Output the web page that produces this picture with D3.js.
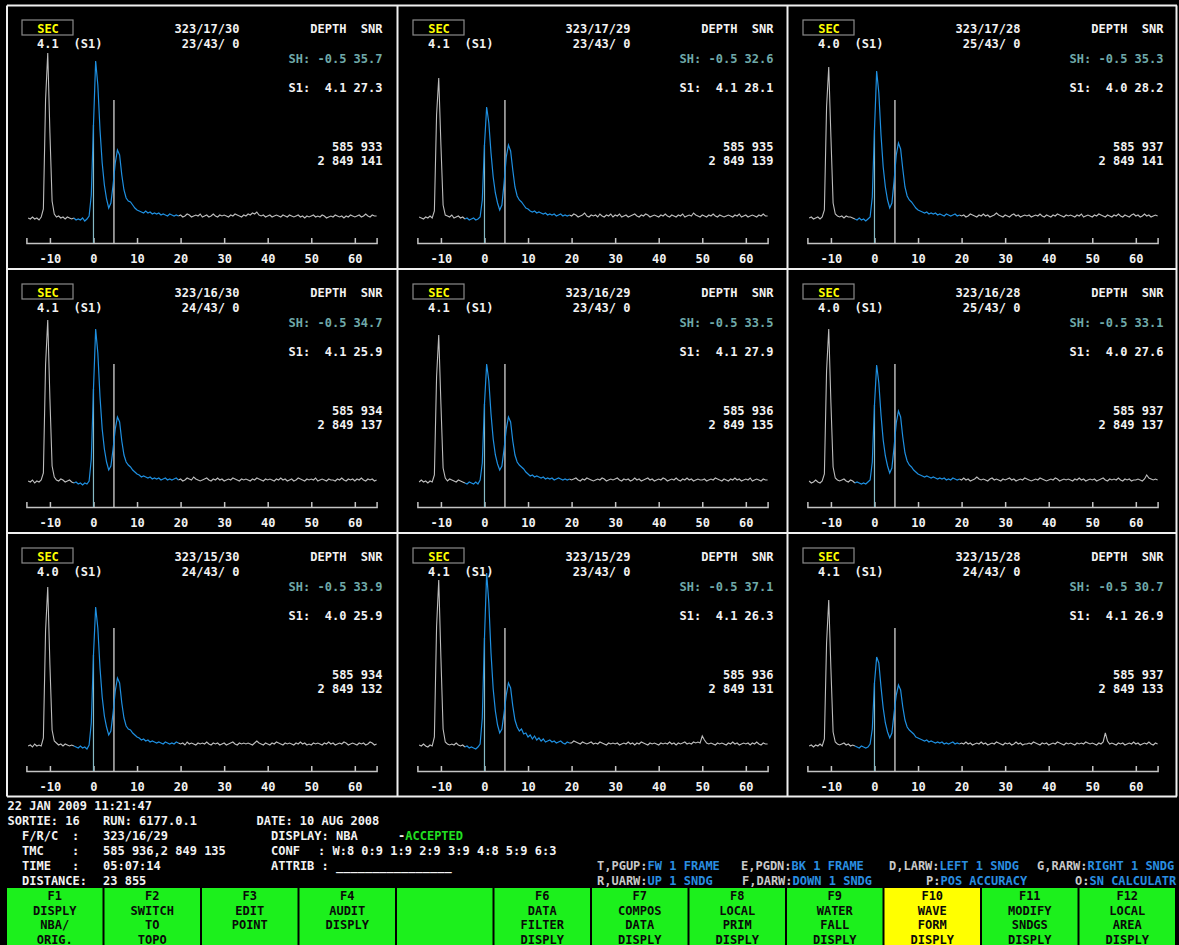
<!DOCTYPE html>
<html>
<head>
<meta charset="utf-8">
<script src="https://cdn.jsdelivr.net/npm/d3@7"></script>
<style>
  body { margin: 0; background: #000; }
  svg { display: block; }
  text {
    font-family: "DejaVu Sans Mono", "Liberation Mono", monospace;
    font-weight: bold;
    font-size: 12px;
    white-space: pre;
  }
</style>
</head>
<body>
<svg id="screen" width="1179" height="945"></svg>
<script>
// ---- waveform sampling: first sample depth and spacing (m) ----
const sampleStart = -15;
const sampleStep = 0.5;
// samples inside this span are the gated (blue) part of the return
const gateSpan = [-4.5, 19.5];
// pick marker depth and top of the marker (amplitude units)
const pickDepth = 4.7;
const pickTop = 125;

// ---- returned waveforms, 161 samples each (-15 .. 65 m) ----
const wave_17_30 = [
  7, 6, 8, 6, 7, 5, 8, 16, 125, 172,
  92, 24, 11, 8, 9, 7, 8, 6, 8, 7,
  6, 7, 5, 6, 5, 7, 4, 6, 9, 30,
  100, 164, 140, 95, 62, 40, 26, 17, 22, 40,
  62, 75, 70, 50, 35, 27, 24, 23, 20, 17,
  15, 14, 13, 12, 14, 12, 13, 11, 12, 11,
  12, 10, 11, 10, 9, 11, 10, 9, 10, 9,
  10, 8, 9, 11, 10, 8, 9, 10, 9, 11,
  8, 9, 10, 8, 9, 11, 9, 8, 10, 9,
  10, 9, 8, 10, 9, 11, 10, 9, 8, 10,
  9, 11, 10, 12, 11, 13, 10, 9, 10, 8,
  9, 10, 8, 9, 10, 9, 8, 10, 9, 8,
  10, 9, 8, 9, 10, 8, 9, 7, 9, 8,
  9, 10, 8, 9, 8, 10, 9, 7, 8, 9,
  8, 10, 9, 8, 9, 7, 9, 8, 10, 9,
  8, 9, 10, 8, 9, 11, 9, 8, 10, 9,
  9
];
const wave_17_29 = [
  8, 7, 6, 8, 7, 9, 7, 14, 110, 147,
  80, 20, 10, 9, 8, 10, 7, 8, 9, 7,
  8, 6, 7, 5, 6, 7, 5, 6, 8, 25,
  80, 118, 102, 72, 48, 32, 22, 15, 20, 42,
  68, 80, 74, 55, 38, 29, 25, 23, 20, 17,
  16, 14, 13, 14, 12, 13, 12, 11, 12, 10,
  11, 10, 11, 9, 10, 11, 9, 10, 9, 10,
  9, 11, 10, 8, 9, 10, 12, 9, 8, 10,
  9, 10, 8, 11, 9, 8, 10, 9, 11, 8,
  10, 9, 11, 8, 9, 10, 8, 9, 10, 11,
  9, 8, 10, 9, 11, 10, 8, 9, 10, 9,
  8, 10, 9, 11, 9, 8, 10, 9, 8, 10,
  9, 11, 8, 9, 10, 9, 12, 10, 9, 8,
  10, 9, 8, 10, 9, 11, 9, 8, 10, 9,
  8, 9, 10, 9, 8, 10, 9, 11, 8, 9,
  10, 8, 9, 10, 9, 8, 10, 9, 11, 9,
  9
];
const wave_17_28 = [
  7, 8, 6, 7, 8, 6, 8, 15, 118, 158,
  88, 22, 11, 9, 8, 9, 7, 9, 8, 8,
  7, 6, 5, 7, 5, 6, 4, 6, 8, 28,
  95, 154, 132, 90, 58, 38, 25, 17, 22, 44,
  70, 82, 76, 56, 38, 29, 25, 23, 20, 17,
  15, 14, 13, 12, 13, 11, 12, 11, 12, 10,
  11, 10, 9, 11, 10, 9, 10, 11, 9, 10,
  9, 10, 8, 9, 11, 10, 9, 8, 10, 9,
  11, 9, 10, 8, 9, 10, 12, 10, 9, 8,
  10, 9, 8, 10, 11, 9, 10, 8, 9, 10,
  9, 10, 8, 9, 10, 9, 11, 9, 8, 10,
  9, 8, 10, 9, 11, 10, 9, 8, 10, 9,
  10, 9, 8, 10, 9, 11, 8, 9, 10, 9,
  8, 10, 9, 11, 10, 9, 8, 10, 9, 8,
  10, 9, 11, 9, 8, 10, 9, 8, 10, 11,
  9, 10, 8, 9, 11, 9, 10, 8, 9, 10,
  9
];
const wave_16_30 = [
  8, 7, 9, 6, 8, 7, 9, 16, 124, 169,
  90, 23, 12, 9, 8, 10, 9, 7, 8, 9,
  7, 6, 7, 5, 6, 4, 6, 5, 8, 30,
  100, 160, 136, 92, 60, 40, 27, 19, 23, 40,
  60, 72, 67, 48, 34, 27, 24, 22, 19, 17,
  15, 14, 12, 13, 12, 11, 12, 10, 11, 10,
  11, 9, 10, 11, 9, 10, 9, 10, 11, 9,
  10, 8, 9, 11, 10, 9, 12, 10, 9, 8,
  9, 10, 11, 9, 8, 10, 9, 11, 9, 10,
  8, 9, 10, 9, 11, 10, 9, 8, 10, 9,
  10, 9, 8, 10, 9, 11, 10, 9, 8, 10,
  9, 10, 9, 8, 10, 9, 11, 9, 10, 8,
  9, 10, 8, 9, 11, 10, 9, 8, 10, 9,
  10, 9, 11, 8, 9, 10, 9, 8, 10, 9,
  9, 8, 10, 9, 11, 9, 8, 10, 9, 10,
  8, 10, 9, 11, 9, 8, 10, 9, 10, 8,
  9
];
const wave_16_29 = [
  7, 9, 7, 8, 6, 8, 7, 14, 112, 154,
  85, 21, 11, 8, 10, 9, 8, 7, 9, 8,
  7, 6, 5, 7, 6, 5, 7, 5, 9, 26,
  85, 125, 108, 75, 50, 34, 25, 19, 23, 40,
  60, 72, 67, 48, 34, 27, 24, 22, 20, 17,
  15, 13, 14, 12, 13, 12, 11, 12, 10, 11,
  10, 11, 9, 10, 11, 10, 9, 10, 9, 10,
  9, 10, 11, 9, 8, 10, 9, 11, 10, 9,
  8, 9, 10, 9, 11, 10, 8, 9, 10, 9,
  10, 11, 9, 8, 10, 9, 10, 8, 9, 11,
  9, 10, 8, 9, 10, 11, 9, 10, 8, 9,
  10, 9, 11, 10, 8, 9, 10, 9, 11, 9,
  8, 10, 9, 11, 9, 10, 8, 9, 10, 9,
  9, 10, 8, 9, 10, 9, 11, 10, 9, 8,
  10, 9, 8, 10, 9, 11, 9, 10, 8, 9,
  10, 9, 11, 8, 9, 10, 9, 8, 10, 9,
  9
];
const wave_16_28 = [
  8, 6, 7, 9, 7, 6, 8, 15, 118, 160,
  86, 22, 11, 9, 8, 9, 10, 8, 7, 9,
  8, 6, 7, 6, 5, 6, 5, 7, 9, 27,
  84, 124, 106, 74, 49, 33, 23, 16, 21, 42,
  66, 78, 72, 52, 36, 28, 24, 22, 19, 17,
  15, 14, 13, 12, 13, 12, 11, 12, 11, 10,
  11, 10, 11, 9, 10, 9, 11, 10, 9, 10,
  9, 11, 9, 10, 8, 9, 10, 12, 10, 9,
  10, 9, 8, 10, 11, 9, 10, 9, 8, 10,
  9, 10, 11, 9, 10, 8, 9, 10, 9, 11,
  10, 9, 8, 9, 10, 9, 11, 10, 9, 8,
  9, 10, 9, 11, 10, 8, 9, 10, 9, 10,
  9, 8, 10, 9, 11, 9, 10, 8, 9, 10,
  9, 10, 8, 9, 10, 11, 9, 8, 10, 9,
  10, 9, 11, 9, 8, 10, 9, 10, 8, 9,
  9, 10, 9, 8, 10, 14, 11, 10, 9, 10,
  9
];
const wave_15_30 = [
  7, 8, 6, 9, 7, 8, 7, 15, 122, 166,
  88, 23, 12, 10, 8, 9, 7, 9, 8, 7,
  8, 7, 6, 5, 7, 5, 6, 4, 8, 30,
  98, 146, 125, 85, 56, 37, 26, 18, 22, 40,
  62, 75, 70, 50, 35, 27, 24, 23, 20, 18,
  16, 15, 13, 14, 12, 13, 11, 12, 11, 10,
  11, 10, 9, 11, 10, 9, 10, 9, 11, 10,
  9, 10, 8, 11, 9, 10, 9, 8, 10, 9,
  10, 9, 11, 9, 8, 10, 9, 10, 8, 9,
  10, 8, 9, 10, 11, 9, 8, 10, 9, 10,
  9, 10, 9, 8, 10, 12, 10, 9, 8, 10,
  9, 8, 10, 9, 11, 10, 9, 8, 10, 9,
  10, 9, 8, 10, 9, 11, 9, 10, 8, 9,
  8, 10, 9, 10, 9, 8, 10, 9, 11, 9,
  10, 8, 9, 10, 9, 11, 10, 8, 9, 10,
  9, 8, 10, 9, 10, 8, 9, 11, 10, 8,
  9
];
const wave_15_29 = [
  8, 7, 9, 7, 6, 8, 7, 16, 126, 173,
  95, 24, 11, 9, 8, 9, 8, 10, 8, 7,
  8, 6, 7, 5, 6, 5, 4, 6, 9, 35,
  115, 180, 150, 100, 64, 42, 28, 20, 24, 40,
  58, 70, 65, 47, 33, 26, 22, 24, 19, 20,
  16, 18, 14, 17, 13, 15, 12, 14, 11, 12,
  13, 11, 12, 10, 11, 12, 10, 9, 11, 10,
  10, 12, 11, 10, 9, 11, 10, 9, 10, 11,
  9, 10, 9, 11, 10, 9, 8, 10, 9, 10,
  9, 10, 8, 9, 10, 9, 11, 9, 10, 8,
  10, 9, 11, 10, 9, 8, 10, 9, 10, 9,
  8, 10, 9, 10, 9, 11, 9, 10, 8, 10,
  9, 10, 11, 9, 10, 9, 11, 10, 11, 10,
  17, 13, 10, 9, 10, 9, 8, 10, 9, 10,
  9, 8, 10, 9, 11, 9, 10, 8, 9, 10,
  9, 10, 8, 10, 9, 11, 9, 8, 10, 9,
  9
];
const wave_15_28 = [
  7, 8, 6, 8, 7, 9, 7, 14, 110, 153,
  84, 21, 11, 9, 8, 9, 10, 8, 9, 7,
  8, 7, 6, 5, 7, 6, 5, 6, 9, 24,
  70, 96, 90, 66, 45, 30, 21, 15, 20, 40,
  58, 68, 63, 46, 33, 26, 23, 21, 19, 16,
  15, 14, 13, 12, 13, 11, 12, 11, 10, 11,
  10, 11, 9, 10, 9, 10, 11, 9, 10, 9,
  10, 9, 11, 9, 10, 8, 9, 10, 9, 11,
  9, 10, 8, 9, 10, 9, 11, 10, 9, 8,
  10, 9, 10, 8, 9, 11, 9, 10, 8, 9,
  9, 10, 9, 11, 10, 9, 8, 10, 9, 10,
  8, 9, 10, 9, 11, 10, 9, 8, 10, 9,
  10, 9, 8, 10, 9, 10, 9, 11, 10, 9,
  10, 9, 8, 10, 9, 11, 20, 12, 9, 10,
  9, 8, 10, 9, 10, 8, 9, 10, 9, 11,
  9, 10, 8, 9, 10, 9, 11, 9, 8, 10,
  9
];
const waves = [wave_17_30, wave_17_29, wave_17_28,
               wave_16_30, wave_16_29, wave_16_28,
               wave_15_30, wave_15_29, wave_15_28];

// ---- per-sounding header values ----
const frcLabels   = ["323/17/30", "323/17/29", "323/17/28", "323/16/30", "323/16/29", "323/16/28", "323/15/30", "323/15/29", "323/15/28"];
const beamLabels  = ["23/43/ 0", "23/43/ 0", "25/43/ 0", "24/43/ 0", "23/43/ 0", "25/43/ 0", "24/43/ 0", "23/43/ 0", "24/43/ 0"];
const secDepths   = ["4.1", "4.1", "4.0", "4.1", "4.1", "4.0", "4.0", "4.1", "4.1"];
const shDepth     = "-0.5";
const shSnr       = ["35.7", "32.6", "35.3", "34.7", "33.5", "33.1", "33.9", "37.1", "30.7"];
const s1Depths    = ["4.1", "4.1", "4.0", "4.1", "4.1", "4.0", "4.0", "4.1", "4.1"];
const s1Snr       = ["27.3", "28.1", "28.2", "25.9", "27.9", "27.6", "25.9", "26.3", "26.9"];
const eastings    = ["585 933", "585 935", "585 937", "585 934", "585 936", "585 937", "585 934", "585 936", "585 937"];
const northings   = ["2 849 141", "2 849 139", "2 849 141", "2 849 137", "2 849 135", "2 849 137", "2 849 132", "2 849 131", "2 849 133"];
const depthTicks  = [-10, 0, 10, 20, 30, 40, 50, 60];

// ---- status block ----
const statusLines = [
  ["22 JAN 2009 11:21:47"],
  ["SORTIE: 16", "RUN: 6177.0.1", "DATE: 10 AUG 2008"],
  ["F/R/C", ":", "323/16/29", "DISPLAY: NBA"],
  ["TMC", ":", "585 936,2 849 135", "CONF", ": W:8 0:9 1:9 2:9 3:9 4:8 5:9 6:3"],
  ["TIME", ":", "05:07:14", "ATTRIB : ________________"],
  ["DISTANCE:", "23 855"]
];
const acceptState = "ACCEPTED";
const keyHints = [
  [["T,PGUP:", "FW 1 FRAME"], ["E,PGDN:", "BK 1 FRAME"], ["D,LARW:", "LEFT 1 SNDG"], ["G,RARW:", "RIGHT 1 SNDG"]],
  [["R,UARW:", "UP 1 SNDG"], ["F,DARW:", "DOWN 1 SNDG"], ["P:", "POS ACCURACY"], ["O:", "SN CALCULATR"]]
];
const functionKeys = [
  ["F1", "DISPLY", "NBA/", "ORIG."],
  ["F2", "SWITCH", "TO", "TOPO"],
  ["F3", "EDIT", "POINT"],
  ["F4", "AUDIT", "DISPLY"],
  [],
  ["F6", "DATA", "FILTER", "DISPLY"],
  ["F7", "COMPOS", "DATA", "DISPLY"],
  ["F8", "LOCAL", "PRIM", "DISPLY"],
  ["F9", "WATER", "FALL", "DISPLY"],
  ["F10", "WAVE", "FORM", "DISPLY"],
  ["F11", "MODIFY", "SNDGS", "DISPLY"],
  ["F12", "LOCAL", "AREA", "DISPLY"]
];
const activeKey = "F10";

// ---- drawing ----
const svg = d3.select("#screen");
svg.append("rect").attr("width", 1179).attr("height", 945).attr("fill", "#000");

const colX = [7, 398, 788];
const rowY = [5, 269, 533];
const WHITE = "#f2f2f2", TEAL = "#6fa9a9", GRAY_TRACE = "#bdbdbd", BLUE_TRACE = "#1e8fe0";

const x = d3.scaleLinear().domain([-15.4, 65]).range([19.4, 369.6]);
const y = d3.scaleLinear().domain([0, 180]).range([220, 40]);
const depthAt = i => sampleStart + i * sampleStep;
const line = d3.line().x(d => x(d[0])).y(d => y(d[1]));

waves.forEach((wave, p) => {
  const g = svg.append("g")
    .attr("transform", `translate(${colX[p % 3]},${rowY[Math.floor(p / 3)]})`);

  // header
  g.append("rect").attr("x", 15).attr("y", 15).attr("width", 51).attr("height", 15)
    .attr("fill", "none").attr("stroke", "#8a8a8a").attr("stroke-width", 1.2);
  g.append("text").attr("x", 41).attr("y", 27.5).attr("text-anchor", "middle")
    .attr("fill", "#ffff00").text("SEC");
  g.append("text").attr("x", 30).attr("y", 42.7).attr("fill", WHITE).text(secDepths[p]);
  g.append("text").attr("x", 66.5).attr("y", 42.7).attr("fill", WHITE).text("(S1)");
  g.append("text").attr("x", 232.5).attr("y", 28).attr("text-anchor", "end").attr("fill", WHITE).text(frcLabels[p]);
  g.append("text").attr("x", 232.5).attr("y", 42.7).attr("text-anchor", "end").attr("fill", WHITE).text(beamLabels[p]);
  const rx = 375.5;
  g.append("text").attr("x", rx).attr("y", 28).attr("text-anchor", "end").attr("fill", WHITE).text("DEPTH  SNR");
  g.append("text").attr("x", rx).attr("y", 58.3).attr("text-anchor", "end").attr("fill", TEAL)
    .text(`SH: ${shDepth} ${shSnr[p]}`);
  g.append("text").attr("x", rx).attr("y", 86.7).attr("text-anchor", "end").attr("fill", WHITE)
    .text(`S1:  ${s1Depths[p]} ${s1Snr[p]}`);
  g.append("text").attr("x", rx).attr("y", 145.7).attr("text-anchor", "end").attr("fill", WHITE).text(eastings[p]);
  g.append("text").attr("x", rx).attr("y", 160).attr("text-anchor", "end").attr("fill", WHITE).text(northings[p]);

  // depth axis: ticks point up, labels underneath
  const axis = d3.axisBottom(x).tickValues(depthTicks).tickFormat(d => String(d))
    .tickSizeInner(-5).tickSizeOuter(-5).tickPadding(11);
  const ag = g.append("g").attr("transform", "translate(0,238)").call(axis);
  ag.select(".domain").attr("stroke", "#c4c4c4").attr("stroke-width", 1.5);
  ag.selectAll(".tick line").attr("stroke", "#c4c4c4").attr("stroke-width", 1.5);
  ag.selectAll(".tick text").attr("fill", WHITE)
    .style("font-family", '"DejaVu Sans Mono", monospace').style("font-size", "12px")
    .style("font-weight", "bold");

  const pts = wave.map((v, i) => [depthAt(i), v]);
  const g0 = Math.round((gateSpan[0] - sampleStart) / sampleStep);
  const g1 = Math.round((gateSpan[1] - sampleStart) / sampleStep);

  // surface line at depth 0, up to where the trace crosses it
  const zeroIdx = Math.round((0 - sampleStart) / sampleStep);
  g.append("line").attr("x1", x(0)).attr("x2", x(0))
    .attr("y1", 238).attr("y2", y(wave[zeroIdx]))
    .attr("stroke", "#86b9c4").attr("stroke-width", 1.2);

  // pick marker
  g.append("line").attr("x1", x(pickDepth)).attr("x2", x(pickDepth))
    .attr("y1", y(pickTop)).attr("y2", 238)
    .attr("stroke", "#e6e6e6").attr("stroke-width", 1.2);

  // trace: ungated parts gray, gated part blue
  g.append("path").attr("d", line(pts.slice(0, g0 + 1)))
    .attr("fill", "none").attr("stroke", GRAY_TRACE).attr("stroke-width", 1.1);
  g.append("path").attr("d", line(pts.slice(g1)))
    .attr("fill", "none").attr("stroke", GRAY_TRACE).attr("stroke-width", 1.1);
  g.append("path").attr("d", line(pts.slice(g0, g1 + 1)))
    .attr("fill", "none").attr("stroke", BLUE_TRACE).attr("stroke-width", 1.2);
});

// panel frame
const frame = svg.append("g").attr("stroke", "#f0f0f0").attr("stroke-width", 2);
[5.5, 269, 533, 796.5].forEach(yy =>
  frame.append("line").attr("x1", 7).attr("x2", 1177).attr("y1", yy).attr("y2", yy));
[7, 397.5, 787.5, 1176.5].forEach(xx =>
  frame.append("line").attr("x1", xx).attr("x2", xx).attr("y1", 5.5).attr("y2", 796.5));

// status block
const statusX = [
  [7.5],
  [7.5, 103, 256.5],
  [22, 72, 103, 271],
  [22, 72, 103, 271, 318],
  [22, 72, 103, 271],
  [22, 103]
];
const statusY = [809.5, 824.5, 839.5, 854.5, 869.5, 884.5];
statusLines.forEach((row, r) => {
  row.forEach((s, c) => {
    svg.append("text").attr("x", statusX[r][c]).attr("y", statusY[r]).attr("fill", WHITE).text(s);
  });
});
const acc = svg.append("text").attr("x", 398).attr("y", statusY[2]);
acc.append("tspan").attr("fill", WHITE).text("-");
acc.append("tspan").attr("fill", "#22e022").text(acceptState);

const hintX = [[597, 741, 889, 1037], [597, 742, 926, 1075]];
keyHints.forEach((row, r) => {
  row.forEach((h, c) => {
    const t = svg.append("text").attr("x", hintX[r][c]).attr("y", statusY[4 + r]);
    t.append("tspan").attr("fill", "#c8c8c8").text(h[0]);
    t.append("tspan").attr("fill", "#2a8ee0").text(h[1]);
  });
});

// function key bar
const keyBand = d3.scaleBand().domain(d3.range(functionKeys.length)).range([6, 1176]);
functionKeys.forEach((lab, k) => {
  const kx = keyBand(k), kw = keyBand.bandwidth();
  const active = lab[0] === activeKey;
  svg.append("rect").attr("x", kx + 1).attr("y", 888).attr("width", kw - 2).attr("height", 60)
    .attr("fill", active ? "#ffff00" : "#1cf01c");
  lab.forEach((s, j) => {
    svg.append("text").attr("x", kx + kw / 2).attr("y", 900 + j * 14.5)
      .attr("text-anchor", "middle").attr("fill", "#0a0a0a").text(s);
  });
});
</script>
</body>
</html>
